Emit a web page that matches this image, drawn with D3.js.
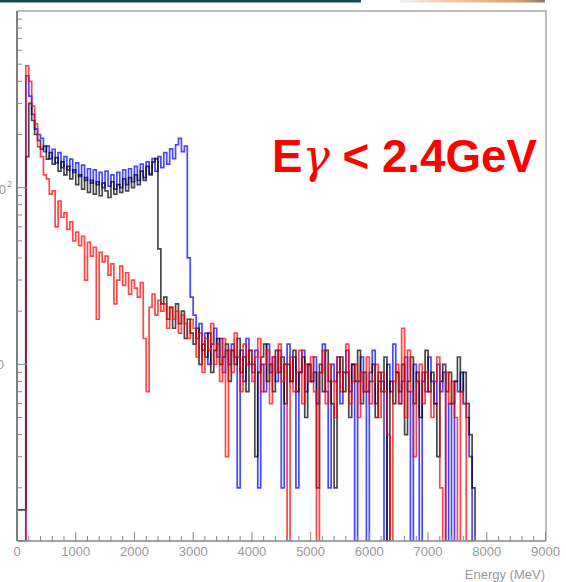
<!DOCTYPE html>
<html>
<head>
<meta charset="utf-8">
<script src="https://cdn.jsdelivr.net/npm/d3@7"></script>
<style>
  body { margin: 0; background: #fff; }
  text { font-family: "Liberation Sans", Arial, sans-serif; }
</style>
</head>
<body>
<script>
// histogram binning (MeV)
var binWidth = 50;

// counts per 50 MeV bin
var blackCounts = [
  1.5,1.5,1.5,150,300,240,200,185,165,172,
  145,158,136,148,124,140,118,132,112,126,
  104,118,98,114,94,110,92,108,90,106,
  96,88,108,92,104,94,112,96,114,100,
  118,104,124,110,132,118,140,146,45,22,
  24,18,21,16,22,17,20,14,18,15,
  13,16,10,13,11,15,9,12,14,10,
  11,13,8,12,10,14,9,11,7,12,
  10,3,9,11,13,8,10,7,12,9,
  11,6,10,8,12,7,9,11,5,10,
  8,9,2,10,7,12,8,6,2,9,
  11,7,9,5,10,8,12,6,9,7,
  8,10,5,9,7,11,1,8,6,9,
  7,10,4,8,11,6,9,5,8,12,
  7,9,6,3,8,10,7,9,6,8,
  11,7,9,6,4,2
];

var blueCounts = [
  0,0,0,430,330,260,215,200,190,160,
  172,146,165,138,158,130,150,126,145,122,
  138,116,134,110,128,106,126,104,122,100,
  124,102,118,98,122,100,126,104,128,108,
  132,110,136,114,140,120,146,124,150,130,
  158,136,166,146,175,190,160,172,40,24,
  19,14,17,12,15,10,13,16,11,14,
  9,12,10,13,11,2,12,8,14,10,
  9,12,2,10,7,13,9,11,8,12,
  2,10,13,8,11,2,9,12,7,10,
  8,11,6,9,13,7,2,10,8,11,
  6,9,12,7,10,1,8,11,7,1,
  9,12,6,8,8,1,10,7,13,9,
  6,8,11,7,1,10,8,1,9,7,
  11,8,6,10,7,9,1,6,1,8,
  7,9,6,5,3,0
];

var redCounts = [
  0,0,0,490,400,290,230,170,150,118,
  112,92,96,60,84,68,72,58,64,50,
  56,47,53,30,49,41,46,18,43,38,
  41,32,37,22,30,36,28,33,25,30,
  27,24,29,14,7,21,25,19,23,20,
  22,16,21,18,20,15,19,17,14,18,
  16,11,15,9,14,12,17,10,13,8,
  14,3,12,9,15,11,7,13,10,12,
  8,11,14,7,10,12,6,11,9,13,
  8,10,0,11,7,9,12,6,10,8,
  11,7,0,9,12,6,10,8,5,11,
  7,9,13,6,8,10,5,9,7,11,
  6,8,10,5,9,7,4,1,8,10,
  6,16,5,12,7,3,8,10,6,9,
  7,5,8,11,2,1,9,6,8,5,
  1,7,6,1,0,0
];

var xMajorTicks = [0, 1000, 2000, 3000, 4000, 5000, 6000, 7000, 8000, 9000];
var xTitle = "Energy (MeV)";
var titleParts = ["E", "\u03b3", " < 2.4GeV"];

var svgWidth = 566;
var svgHeight = 582;

var frame = { left: 17, top: 11, right: 546, bottom: 541 };

var svg = d3.select("body")
  .append("svg")
  .attr("width", svgWidth)
  .attr("height", svgHeight);

// slide remnants at the very top
svg.append("rect")
  .attr("x", 0).attr("y", 0)
  .attr("width", 361).attr("height", 2.5)
  .attr("fill", "#1d4a4f");

var grad = svg.append("defs").append("linearGradient").attr("id", "topstrip");
grad.append("stop").attr("offset", "0%").attr("stop-color", "#eef3f5");
grad.append("stop").attr("offset", "35%").attr("stop-color", "#f3c9a0");
grad.append("stop").attr("offset", "80%").attr("stop-color", "#d9a070");
grad.append("stop").attr("offset", "100%").attr("stop-color", "#8a7a70");
svg.append("rect")
  .attr("x", 400).attr("y", 0)
  .attr("width", 145).attr("height", 2.5)
  .attr("fill", "url(#topstrip)");

var x = d3.scaleLinear()
  .domain([0, 9000])
  .range([frame.left, 545.5]);

var y = d3.scaleLog()
  .domain([1, 1000])
  .range([frame.bottom, frame.top])
  .clamp(true);

svg.append("clipPath").attr("id", "plotclip")
  .append("rect")
  .attr("x", frame.left).attr("y", frame.top)
  .attr("width", frame.right - frame.left)
  .attr("height", frame.bottom - frame.top);

// histogram as step path
function histPoints(counts) {
  var pts = [[0, 0]];
  counts.forEach(function(c, i) {
    pts.push([i * binWidth, c]);
  });
  pts.push([counts.length * binWidth, counts[counts.length - 1]]);
  pts.push([counts.length * binWidth, 0]);
  return pts;
}

var line = d3.line()
  .x(d => x(d[0]))
  .y(d => y(Math.max(d[1], 1)))
  .curve(d3.curveStepAfter);

var plot = svg.append("g").attr("clip-path", "url(#plotclip)");

var series = [
  { counts: blueCounts, color: "#0000ff" },
  { counts: blackCounts, color: "#000000" },
  { counts: redCounts, color: "#ff0000" }
];

series.forEach(function(s) {
  plot.append("path")
    .datum(histPoints(s.counts))
    .attr("d", line)
    .attr("fill", "none")
    .attr("stroke", s.color)
    .attr("stroke-width", 1.7)
    .attr("stroke-opacity", 0.72);
});

// frame
svg.append("path")
  .attr("d", `M${frame.left},${frame.top}H${frame.right}V${frame.bottom}`)
  .attr("fill", "none")
  .attr("stroke", "#a8a8a8")
  .attr("stroke-width", 1.5);

// x axis
var xAxisG = svg.append("g");
xAxisG.append("line")
  .attr("x1", frame.left).attr("x2", frame.right)
  .attr("y1", frame.bottom).attr("y2", frame.bottom)
  .attr("stroke", "#888").attr("stroke-width", 1.5);

d3.range(0, 9001, 200).forEach(function(e) {
  var major = e % 1000 === 0;
  xAxisG.append("line")
    .attr("x1", x(e)).attr("x2", x(e))
    .attr("y1", frame.bottom).attr("y2", frame.bottom - (major ? 9 : 5))
    .attr("stroke", "#888").attr("stroke-width", 1);
});

xAxisG.selectAll("text.tick")
  .data(xMajorTicks)
  .enter().append("text")
  .attr("class", "tick")
  .attr("x", d => x(d))
  .attr("y", 556)
  .attr("text-anchor", "middle")
  .attr("font-size", "13px")
  .attr("fill", "#999")
  .text(d => d);

svg.append("text")
  .attr("x", 545)
  .attr("y", 579)
  .attr("text-anchor", "end")
  .attr("font-size", "13px")
  .attr("fill", "#999")
  .text(xTitle);

// y axis (log)
var yAxisG = svg.append("g");
yAxisG.append("line")
  .attr("x1", frame.left).attr("x2", frame.left)
  .attr("y1", frame.top).attr("y2", frame.bottom)
  .attr("stroke", "#808080").attr("stroke-width", 2);

[1, 10, 100].forEach(function(decade) {
  d3.range(1, 10).forEach(function(m) {
    var v = decade * m;
    var major = m === 1;
    yAxisG.append("line")
      .attr("x1", frame.left).attr("x2", frame.left + (major ? 10 : 5))
      .attr("y1", y(v)).attr("y2", y(v))
      .attr("stroke", "#888").attr("stroke-width", 1);
  });
});

// y labels, cut off by the page edge as in the original slide
yAxisG.append("text")
  .attr("x", 6).attr("y", y(100) + 6)
  .attr("text-anchor", "end")
  .attr("font-size", "13px")
  .attr("fill", "#999")
  .text("10");
yAxisG.append("text")
  .attr("x", 7).attr("y", y(100) - 1)
  .attr("font-size", "9px")
  .attr("fill", "#999")
  .text("2");
yAxisG.append("text")
  .attr("x", 4).attr("y", y(10) + 5)
  .attr("text-anchor", "end")
  .attr("font-size", "13px")
  .attr("fill", "#999")
  .text("10");

// annotation
var title = svg.append("text")
  .attr("x", 272)
  .attr("y", 172)
  .attr("font-size", "46px")
  .attr("font-weight", "bold")
  .attr("fill", "#ff0000")
  .attr("textLength", 265)
  .attr("lengthAdjust", "spacingAndGlyphs");
title.append("tspan").text(titleParts[0]);
title.append("tspan")
  .attr("font-family", "'DejaVu Serif', serif")
  .attr("font-style", "italic")
  .attr("font-weight", "normal")
  .text(titleParts[1]);
title.append("tspan").text(titleParts[2]);
</script>
</body>
</html>
